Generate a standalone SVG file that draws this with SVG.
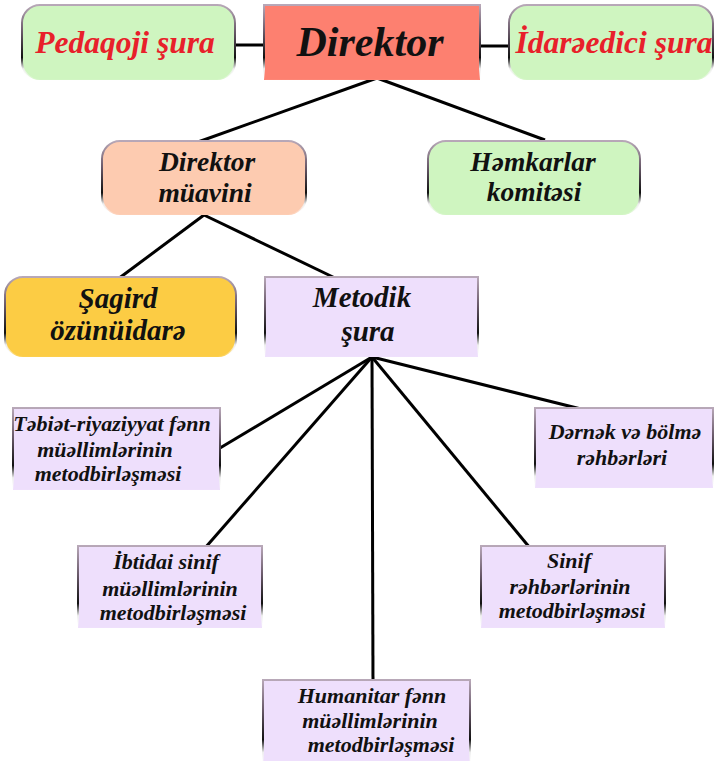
<svg xmlns="http://www.w3.org/2000/svg" width="714" height="761" viewBox="0 0 714 761">
<defs>
<linearGradient id="edge" x1="0" y1="0" x2="0" y2="1">
<stop offset="0" stop-color="#b8a8b8"/>
<stop offset="0.35" stop-color="#6a5a6a"/>
<stop offset="0.7" stop-color="#111"/>
<stop offset="0.85" stop-color="#eee"/>
<stop offset="1" stop-color="#fff" stop-opacity="0"/>
</linearGradient>
</defs>
<style>
.box{stroke:url(#edge);stroke-width:2}
.green{fill:#cff5c0}
.peach{fill:#fdcbb0}
.gold{fill:#fccc44}
.lav{fill:#eedffc}
.salmon{fill:#fd8070}
.t{font-weight:bold;font-style:italic;text-anchor:middle;fill:#111}
.red{fill:#e8202a}
.s{font-size:22px}
.m{font-size:27.5px}
.l{font-size:29px}
.conn line{stroke:#000;stroke-width:3}
</style>
<rect width="714" height="761" fill="#fff"/>
<g class="conn">
<line x1="235" y1="45" x2="264" y2="45"/>
<line x1="480" y1="46" x2="509" y2="46"/>
<line x1="377" y1="78" x2="198" y2="142"/>
<line x1="377" y1="78" x2="545" y2="140"/>
<line x1="204" y1="215" x2="118" y2="279"/>
<line x1="204" y1="215" x2="335" y2="278"/>
<line x1="372" y1="357" x2="220" y2="448"/>
<line x1="372" y1="357" x2="205" y2="548"/>
<line x1="372" y1="357" x2="373" y2="683"/>
<line x1="372" y1="357" x2="530" y2="548"/>
<line x1="372" y1="357" x2="585" y2="410"/>
</g>
<g font-family="Liberation Serif, serif">
<g id="pedaqoji">
<rect class="box green" x="22" y="5" width="213" height="75" rx="18"/>
<text class="t red" x="125" y="53" font-size="31.5">Pedaqoji şura</text>
</g>
<g id="direktor">
<rect class="box salmon" x="264" y="5" width="216" height="75"/>
<text class="t" x="370" y="56" font-size="42">Direktor</text>
</g>
<g id="idare">
<rect class="box green" x="509" y="5" width="204" height="75" rx="18"/>
<text class="t red" x="614" y="53" font-size="31.5">İdarəedici şura</text>
</g>
<g id="muavin">
<rect class="box peach" x="102" y="141" width="204" height="74" rx="18"/>
<text class="t m" x="207" y="171">Direktor</text>
<text class="t m" x="205" y="202">müavini</text>
</g>
<g id="hemkarlar">
<rect class="box green" x="428" y="141" width="212" height="74" rx="18"/>
<text class="t m" x="533" y="171">Həmkarlar</text>
<text class="t m" x="534" y="201">komitəsi</text>
</g>
<g id="sagird">
<rect class="box gold" x="5" y="277" width="231" height="80" rx="18"/>
<text class="t l" x="118" y="308">Şagird</text>
<text class="t l" x="118" y="340">özünüidarə</text>
</g>
<g id="metodik">
<rect class="box lav" x="265" y="277" width="213" height="80"/>
<text class="t l" x="362" y="307">Metodik</text>
<text class="t l" x="368" y="341">şura</text>
</g>
<g id="tebiet">
<rect class="box lav" x="13" y="408" width="207" height="82"/>
<text class="t s" x="112" y="431">Təbiət-riyaziyyat fənn</text>
<text class="t s" x="105" y="457">müəllimlərinin</text>
<text class="t s" x="108" y="481">metodbirləşməsi</text>
</g>
<g id="dernek">
<rect class="box lav" x="535" y="408" width="178" height="80"/>
<text class="t s" x="625" y="439">Dərnək və bölmə</text>
<text class="t s" x="622" y="465">rəhbərləri</text>
</g>
<g id="ibtidai">
<rect class="box lav" x="78" y="546" width="184" height="82"/>
<text class="t s" x="166" y="569">İbtidai sinif</text>
<text class="t s" x="170" y="596">müəllimlərinin</text>
<text class="t s" x="173" y="620">metodbirləşməsi</text>
</g>
<g id="sinif">
<rect class="box lav" x="481" y="546" width="184" height="82"/>
<text class="t s" x="569" y="568">Sinif</text>
<text class="t s" x="570" y="594">rəhbərlərinin</text>
<text class="t s" x="572" y="618">metodbirləşməsi</text>
</g>
<g id="humanitar">
<rect class="box lav" x="263" y="680" width="207" height="85"/>
<text class="t s" x="372" y="703">Humanitar fənn</text>
<text class="t s" x="370" y="728">müəllimlərinin</text>
<text class="t s" x="381" y="752">metodbirləşməsi</text>
</g>
</g>
</svg>
